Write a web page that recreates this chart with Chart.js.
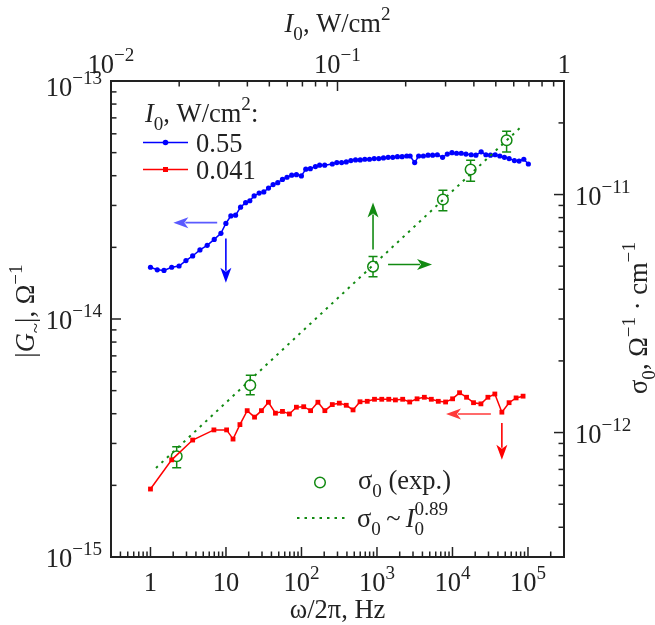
<!DOCTYPE html>
<html><head><meta charset="utf-8">
<script src="https://cdn.jsdelivr.net/npm/chart.js@4.4.1/dist/chart.umd.min.js"></script>
<style>html,body{margin:0;padding:0;background:#fff;}canvas{display:block;}</style>
</head><body>
<canvas id="c" width="655" height="625"></canvas>
<script>
// ---- data ----
const blueFreq = [1, 1.23, 1.51, 1.91, 2.39, 2.95, 3.62, 4.52, 5.64, 6.99, 8.57, 9.97, 11.6, 13.4, 15.6, 18.2, 20.7, 23.6, 27.5, 31.7, 36.6, 42.1, 48.5, 56.0, 64.3, 74.2, 85.7, 99.7, 114, 131, 153, 174, 203,
  256, 294, 340, 392, 451, 520, 600, 690, 796, 918, 1057, 1219, 1406, 1618, 1866, 2152, 2476, 2746, 3158, 3565, 4113, 4746, 5458, 6299, 7396, 8536, 9844, 11330, 13060, 15070, 17700, 20420, 23990, 27720, 31870, 36760, 42380, 48750, 56230, 66070, 76260, 88060, 101200];
const blueG = [1.65e-14, 1.61e-14, 1.60e-14, 1.65e-14, 1.67e-14, 1.76e-14, 1.84e-14, 1.95e-14, 2.04e-14, 2.16e-14, 2.29e-14, 2.52e-14, 2.71e-14, 2.73e-14, 2.95e-14, 3.08e-14, 3.14e-14, 3.29e-14, 3.38e-14, 3.42e-14, 3.55e-14, 3.67e-14, 3.74e-14, 3.86e-14, 3.94e-14, 4.02e-14, 4.04e-14, 3.99e-14, 4.26e-14, 4.28e-14, 4.37e-14, 4.43e-14, 4.43e-14,
  4.48e-14, 4.54e-14, 4.54e-14, 4.57e-14, 4.63e-14, 4.66e-14, 4.66e-14, 4.69e-14, 4.69e-14, 4.72e-14, 4.72e-14, 4.75e-14, 4.78e-14, 4.78e-14, 4.81e-14, 4.81e-14, 4.84e-14, 4.84e-14, 4.54e-14, 4.84e-14, 4.84e-14, 4.88e-14, 4.88e-14, 4.90e-14, 4.78e-14, 4.93e-14, 5.00e-14, 4.97e-14, 4.97e-14, 4.93e-14, 4.90e-14, 4.88e-14, 5.04e-14, 4.90e-14, 4.88e-14, 4.90e-14, 4.84e-14, 4.78e-14, 4.72e-14, 4.63e-14, 4.61e-14, 4.69e-14, 4.48e-14];
const redFreq = [1.0, 1.91, 3.62, 6.92, 10.2, 12.4, 15.3, 19.1, 23.9, 29.5, 36.5, 45.2, 56, 69.2, 85.6, 107, 132, 165, 204, 256, 317, 392, 482, 596, 743, 927, 1157, 1432, 1755, 2190, 2712, 3396, 4240, 5245, 6490, 8107, 10030, 12410, 15360, 19000, 23800, 29450, 36400, 45100, 56200, 69600, 86100];
const redG = [1.93e-15, 2.56e-15, 3.10e-15, 3.42e-15, 3.42e-15, 3.13e-15, 3.60e-15, 4.12e-15, 3.87e-15, 4.12e-15, 4.47e-15, 4.02e-15, 4.09e-15, 3.99e-15, 4.26e-15, 4.28e-15, 4.12e-15, 4.47e-15, 4.12e-15, 4.37e-15, 4.43e-15, 4.34e-15, 4.15e-15, 4.49e-15, 4.51e-15, 4.60e-15, 4.60e-15, 4.60e-15, 4.57e-15, 4.60e-15, 4.48e-15, 4.62e-15, 4.69e-15, 4.60e-15, 4.51e-15, 4.48e-15, 4.62e-15, 4.90e-15, 4.69e-15, 4.45e-15, 4.40e-15, 4.69e-15, 4.84e-15, 4.06e-15, 4.45e-15, 4.66e-15, 4.74e-15];
const sigmaI0 = [0.0195, 0.0412, 0.1435, 0.292, 0.387, 0.558];
const sigma0 = [7.95e-13, 1.58e-12, 4.98e-12, 9.53e-12, 1.274e-11, 1.69e-11];
const sigmaLo = [7.11e-13, 1.44e-12, 4.52e-12, 8.54e-12, 1.137e-11, 1.511e-11];
const sigmaHi = [8.71e-13, 1.74e-12, 5.49e-12, 1.042e-11, 1.393e-11, 1.845e-11];
const fitI0 = [0.0158, 0.66];
const fitSigma = [7.1e-13, 1.96e-11];

const bottomTicks = [1, 10, 100, 1000, 10000, 100000];
const bottomLabels = [['1',''], ['10',''], ['10','2'], ['10','3'], ['10','4'], ['10','5']];
const topTicks = [0.01, 0.1, 1];
const topLabels = [['10','\u22122'], ['10','\u22121'], ['1','']];
const leftTicks = [1e-15, 1e-14, 1e-13];
const leftLabels = [['10','\u221215'], ['10','\u221214'], ['10','\u221213']];
const rightTicks = [1e-12, 1e-11];
const rightLabels = [['10','\u221212'], ['10','\u221211']];

const BLUE = '#0000ff', RED = '#ff0000', GREEN = '#128a12', INK = '#222';
const arrows = [
  {ax:['x','y'], from:[7.65, 2.54e-14], to:[2.01, 2.54e-14], color:'#5a5aff'},
  {ax:['x','y'], from:[9.97, 2.18e-14], to:[9.97, 1.42e-14], color:BLUE},
  {ax:['x','y'], from:[32260, 3.99e-15], to:[8210, 3.99e-15], color:'#ff3a3a'},
  {ax:['x','y'], from:[45100, 3.66e-15], to:[45100, 2.56e-15], color:RED},
  {ax:['x2','y2'], from:[0.1435, 5.87e-12], to:[0.1435, 9.25e-12], color:GREEN},
  {ax:['x2','y2'], from:[0.1672, 5.08e-12], to:[0.2614, 5.08e-12], color:GREEN}
];

const FONT = '"Liberation Serif","DejaVu Serif","Times New Roman",serif';
const FS = 26.5;
function fnt(s, size){ const sz = (s.sub||s.sup) ? size*0.72 : size; return (s.it?'italic ':'') + sz.toFixed(1) + 'px ' + FONT; }
function drawRich(ctx, segs, x, y, size, align){
  const pos = []; let cx = 0, prevStart = 0;
  for (const s of segs){
    ctx.font = fnt(s, size);
    const w = ctx.measureText(s.t).width;
    const sx = s.stack ? prevStart : cx;
    pos.push(sx); prevStart = sx; cx = Math.max(cx, sx + w);
  }
  const x0 = align === 'center' ? x - cx/2 : align === 'right' ? x - cx : x;
  ctx.textAlign = 'left'; ctx.textBaseline = 'alphabetic';
  segs.forEach((s, i) => {
    ctx.font = fnt(s, size);
    const dy = s.sub ? size*0.3 : s.sup ? -size*0.45 : 0;
    ctx.fillText(s.t, x0 + pos[i], y + dy);
  });
  return cx;
}
function lbl(p){ return p[1] ? [{t:p[0]}, {t:p[1], sup:true}] : [{t:p[0]}]; }
function minorList(min, max){
  const out = [];
  for (let e = Math.floor(Math.log10(min)) ; e <= Math.ceil(Math.log10(max)); e++){
    for (let m = 2; m <= 9; m++){ const v = m*Math.pow(10, e); if (v > min*1.0001 && v < max*0.9999) out.push(v); }
  }
  return out;
}
function arrow(ctx, x1, y1, x2, y2, color){
  const ang = Math.atan2(y2-y1, x2-x1), hl = 15, hw = 5.5;
  const bx = x2 - hl*Math.cos(ang), by = y2 - hl*Math.sin(ang);
  ctx.strokeStyle = color; ctx.fillStyle = color; ctx.lineWidth = 1.6;
  ctx.beginPath(); ctx.moveTo(x1, y1); ctx.lineTo(bx + 3*Math.cos(ang), by + 3*Math.sin(ang)); ctx.stroke();
  ctx.beginPath(); ctx.moveTo(x2, y2);
  ctx.lineTo(bx + hw*Math.sin(ang), by - hw*Math.cos(ang));
  ctx.lineTo(bx + 4*Math.cos(ang), by + 4*Math.sin(ang));
  ctx.lineTo(bx - hw*Math.sin(ang), by + hw*Math.cos(ang));
  ctx.closePath(); ctx.fill();
}

const decor = {
  id: 'decor',
  beforeDatasetsDraw(chart){
    const ctx = chart.ctx, sx2 = chart.scales.x2, sy2 = chart.scales.y2;
    ctx.save();
    ctx.strokeStyle = GREEN; ctx.lineWidth = 1.5;
    sigmaI0.forEach((v, i) => {
      const px = sx2.getPixelForValue(v), pl = sy2.getPixelForValue(sigmaLo[i]), ph = sy2.getPixelForValue(sigmaHi[i]);
      ctx.beginPath();
      ctx.moveTo(px, pl); ctx.lineTo(px, ph);
      ctx.moveTo(px-4.5, pl); ctx.lineTo(px+4.5, pl);
      ctx.moveTo(px-4.5, ph); ctx.lineTo(px+4.5, ph);
      ctx.stroke();
    });
    ctx.restore();
  },
  afterDatasetsDraw(chart){
    const ctx = chart.ctx, a = chart.chartArea;
    const sx = chart.scales.x, sy = chart.scales.y, sx2 = chart.scales.x2, sy2 = chart.scales.y2;
    ctx.save();
    arrows.forEach(ar => {
      const X = chart.scales[ar.ax[0]], Y = chart.scales[ar.ax[1]];
      arrow(ctx, X.getPixelForValue(ar.from[0]), Y.getPixelForValue(ar.from[1]), X.getPixelForValue(ar.to[0]), Y.getPixelForValue(ar.to[1]), ar.color);
    });
    ctx.strokeStyle = INK; ctx.lineWidth = 2;
    ctx.strokeRect(a.left, a.top, a.right - a.left, a.bottom - a.top);
    ctx.lineWidth = 1.5;
    const MAJ = 10, MIN = 5.5;
    function hTicks(scale, vals, len, yEdge, dir){
      vals.forEach(v => { const p = scale.getPixelForValue(v); ctx.beginPath(); ctx.moveTo(p, yEdge); ctx.lineTo(p, yEdge + dir*len); ctx.stroke(); });
    }
    function vTicks(scale, vals, len, xEdge, dir){
      vals.forEach(v => { const p = scale.getPixelForValue(v); ctx.beginPath(); ctx.moveTo(xEdge, p); ctx.lineTo(xEdge + dir*len, p); ctx.stroke(); });
    }
    hTicks(sx, bottomTicks, MAJ, a.bottom, -1);
    hTicks(sx, minorList(sx.min, sx.max), MIN, a.bottom, -1);
    hTicks(sx2, topTicks.filter(v => v > sx2.min && v < sx2.max), MAJ, a.top, 1);
    hTicks(sx2, minorList(sx2.min, sx2.max), MIN, a.top, 1);
    vTicks(sy, leftTicks.filter(v => v > sy.min && v < sy.max), MAJ, a.left, 1);
    vTicks(sy, minorList(sy.min, sy.max), MIN, a.left, 1);
    vTicks(sy2, rightTicks, MAJ, a.right, -1);
    vTicks(sy2, minorList(sy2.min, sy2.max), MIN, a.right, -1);

    ctx.fillStyle = INK;
    bottomTicks.forEach((v, i) => drawRich(ctx, lbl(bottomLabels[i]), sx.getPixelForValue(v), 591, FS, 'center'));
    topTicks.forEach((v, i) => drawRich(ctx, lbl(topLabels[i]), sx2.getPixelForValue(v), 73, FS, 'center'));
    const leftOff = [10, 10, 15];
    leftTicks.forEach((v, i) => drawRich(ctx, lbl(leftLabels[i]), a.left - 9, sy.getPixelForValue(v) + leftOff[i], FS, 'right'));
    rightTicks.forEach((v, i) => drawRich(ctx, lbl(rightLabels[i]), a.right + 11, sy2.getPixelForValue(v) + 10, FS, 'left'));

    const cxp = (a.left + a.right)/2;
    drawRich(ctx, [{t:'I', it:true}, {t:'0', sub:true}, {t:', W/cm'}, {t:'2', sup:true}], cxp, 32, FS, 'center');
    drawRich(ctx, [{t:'\u03c9/2\u03c0, Hz'}], cxp, 618, FS, 'center');
    ctx.save(); ctx.translate(34, 311); ctx.rotate(-Math.PI/2);
    drawRich(ctx, [{t:'|'}, {t:'G', it:true}, {t:'~', sub:true}, {t:'|, \u03a9'}, {t:'\u22121', sup:true}], 0, 0, FS, 'center');
    ctx.restore();
    ctx.save(); ctx.translate(647, 318); ctx.rotate(-Math.PI/2);
    drawRich(ctx, [{t:'\u03c3'}, {t:'0', sub:true}, {t:', \u03a9'}, {t:'\u22121', sup:true}, {t:' \u00b7 cm'}, {t:'\u22121', sup:true}], 0, 0, FS, 'center');
    ctx.restore();

    drawRich(ctx, [{t:'I', it:true}, {t:'0', sub:true}, {t:', W/cm'}, {t:'2', sup:true}, {t:':'}], 145, 122, FS, 'left');
    ctx.lineWidth = 1.5;
    ctx.strokeStyle = BLUE; ctx.beginPath(); ctx.moveTo(143, 142.5); ctx.lineTo(188, 142.5); ctx.stroke();
    ctx.fillStyle = BLUE; ctx.beginPath(); ctx.arc(165.5, 142.5, 2.8, 0, Math.PI*2); ctx.fill();
    ctx.strokeStyle = RED; ctx.beginPath(); ctx.moveTo(143, 169.5); ctx.lineTo(188, 169.5); ctx.stroke();
    ctx.fillStyle = RED; ctx.fillRect(165.5 - 2.5, 169.5 - 2.5, 5, 5);
    ctx.fillStyle = INK;
    drawRich(ctx, [{t:'0.55'}], 196, 152, FS, 'left');
    drawRich(ctx, [{t:'0.041'}], 196, 178.5, FS, 'left');

    ctx.strokeStyle = GREEN; ctx.lineWidth = 1.5;
    ctx.beginPath(); ctx.arc(320, 482.5, 5.3, 0, Math.PI*2); ctx.stroke();
    ctx.lineWidth = 2; ctx.setLineDash([2.5, 5]);
    ctx.beginPath(); ctx.moveTo(297, 518); ctx.lineTo(346, 518); ctx.stroke();
    ctx.setLineDash([]);
    ctx.fillStyle = INK;
    drawRich(ctx, [{t:'\u03c3'}, {t:'0', sub:true}, {t:' (exp.)'}], 358, 489, FS, 'left');
    drawRich(ctx, [{t:'\u03c3'}, {t:'0', sub:true}, {t:'\u2009~\u2009'}, {t:'I', it:true}, {t:'0', sub:true}, {t:'0.89', sup:true, stack:true}], 357, 527, FS, 'left');
    ctx.restore();
  }
};

new Chart(document.getElementById('c'), {
  type: 'line',
  data: {
    datasets: [
      { label: 'fit', data: fitI0.map((v, i) => ({x: v, y: fitSigma[i]})), xAxisID: 'x2', yAxisID: 'y2',
        borderColor: GREEN, borderWidth: 2, borderDash: [2.5, 5], pointRadius: 0, fill: false },
      { label: '0.041', data: redFreq.map((v, i) => ({x: v, y: redG[i]})), xAxisID: 'x', yAxisID: 'y',
        borderColor: RED, backgroundColor: RED, borderWidth: 1.5, pointStyle: 'rect', pointRadius: 3.4, pointBorderWidth: 0, fill: false },
      { label: '0.55', data: blueFreq.map((v, i) => ({x: v, y: blueG[i]})), xAxisID: 'x', yAxisID: 'y',
        borderColor: BLUE, backgroundColor: BLUE, borderWidth: 1.5, pointStyle: 'circle', pointRadius: 2.6, pointBorderWidth: 0, fill: false },
      { label: 'sigma', data: sigmaI0.map((v, i) => ({x: v, y: sigma0[i]})), xAxisID: 'x2', yAxisID: 'y2', showLine: false,
        borderColor: GREEN, backgroundColor: '#ffffff', pointBorderColor: GREEN, pointBackgroundColor: '#ffffff', pointRadius: 5.3, pointBorderWidth: 1.5, pointStyle: 'circle' }
    ]
  },
  options: {
    responsive: false, animation: false, events: [],
    layout: { padding: { left: 111, right: 91, top: 81, bottom: 68 } },
    plugins: { legend: { display: false }, tooltip: { enabled: false } },
    elements: { line: { tension: 0 } },
    scales: {
      x:  { type: 'logarithmic', position: 'bottom', min: 0.3, max: 3e5, display: false },
      x2: { type: 'logarithmic', position: 'top', min: 0.01, max: 1, display: false },
      y:  { type: 'logarithmic', position: 'left', min: 1e-15, max: 1e-13, display: false },
      y2: { type: 'logarithmic', position: 'right', min: 3e-13, max: 3e-11, display: false }
    }
  },
  plugins: [decor]
});
</script>
</body></html>
